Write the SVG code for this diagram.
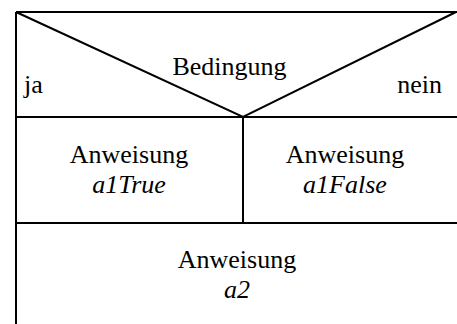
<svg xmlns="http://www.w3.org/2000/svg" width="457" height="324" viewBox="0 0 457 324">
<style>
.l{stroke:#000;stroke-width:2;fill:none}
.t{font-family:"Liberation Serif","Times New Roman",serif;font-size:26px;fill:#000}
</style>
<rect width="457" height="324" fill="#fff"/>
<g id="connectors">
<path class="l" d="M16,12H457M16,12V324M16,117H457M16,223H457M243,117V223M16,12L243,117L456,12"/>
</g>
<g id="cond">
<text class="t" font-family="Times New Roman" text-anchor="middle" x="229.5" y="75">Bedingung</text>
<text class="t" font-family="Times New Roman" x="24" y="93">ja</text>
<text class="t" font-family="Times New Roman" x="442" y="93" text-anchor="end">nein</text>
</g>
<g id="a1True">
<text class="t" font-family="Times New Roman" text-anchor="middle" x="129" y="163">Anweisung</text>
<text class="t" font-family="Times New Roman" text-anchor="middle" font-style="italic" x="129" y="193">a1True</text>
</g>
<g id="a1False">
<text class="t" font-family="Times New Roman" text-anchor="middle" x="345" y="163">Anweisung</text>
<text class="t" font-family="Times New Roman" text-anchor="middle" font-style="italic" x="345" y="193">a1False</text>
</g>
<g id="a2">
<text class="t" font-family="Times New Roman" text-anchor="middle" x="237" y="268">Anweisung</text>
<text class="t" font-family="Times New Roman" text-anchor="middle" font-style="italic" x="237" y="298">a2</text>
</g>
</svg>
